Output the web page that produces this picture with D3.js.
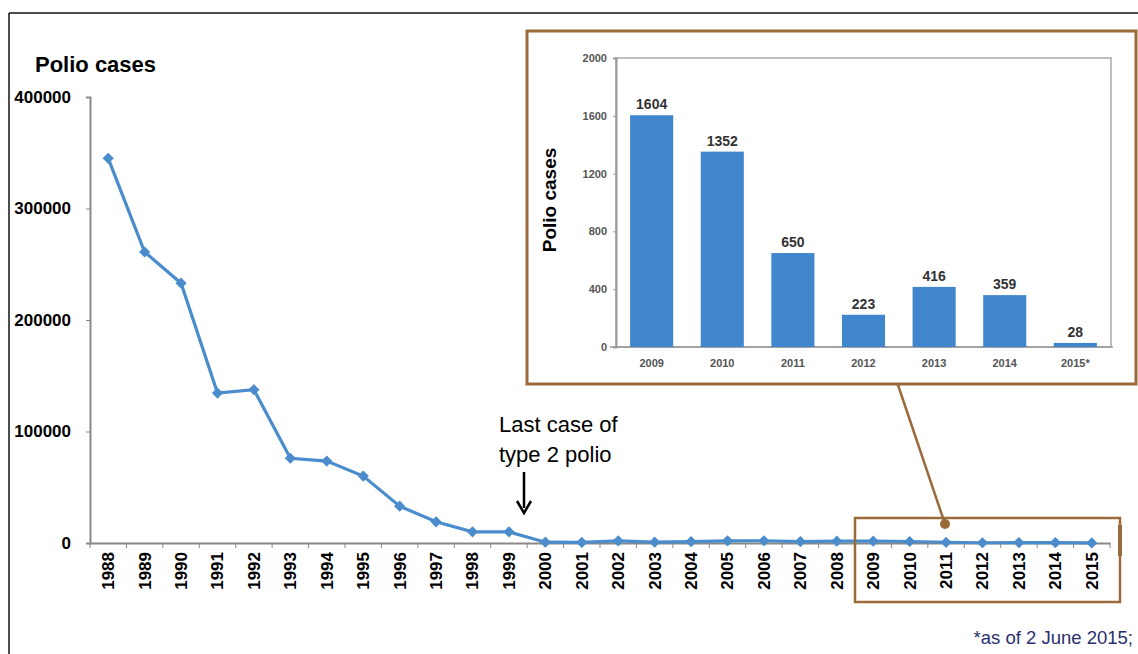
<!DOCTYPE html>
<html>
<head>
<meta charset="utf-8">
<script src="https://cdn.jsdelivr.net/npm/d3@7"></script>
<style>
  body { margin: 0; background: #fff; }
  svg { display: block; font-family: "Liberation Sans", Arial, sans-serif; }
</style>
</head>
<body>
<svg id="chart" width="1138" height="654"></svg>
<script>
// main series, 1988-2015
var years = ["1988","1989","1990","1991","1992","1993","1994","1995","1996","1997","1998","1999","2000","2001",
             "2002","2003","2004","2005","2006","2007","2008","2009","2010","2011","2012","2013","2014","2015"];
var cases = [345000, 261000, 233000, 134500, 137500, 76000, 73500, 60000, 33000, 19000, 10000, 10000, 700, 498,
             1918, 784, 1255, 1979, 1997, 1315, 1651, 1604, 1352, 650, 223, 416, 359, 28];
var yTicks = [0, 100000, 200000, 300000, 400000];

// inset bars
var insetYears = ["2009","2010","2011","2012","2013","2014","2015*"];
var insetCases = [1604, 1352, 650, 223, 416, 359, 28];
var insetTicks = [0, 400, 800, 1200, 1600, 2000];

var blue = "#4a8ccc", brown = "#9a6a3a";
var svg = d3.select("svg#chart");

// outer frame (top + left only visible)
svg.append("line").attr("x1",9).attr("x2",1138).attr("y1",13).attr("y2",13).attr("stroke","#111").attr("stroke-width",1.5);
svg.append("line").attr("x1",9).attr("x2",9).attr("y1",13).attr("y2",654).attr("stroke","#111").attr("stroke-width",1.5);

// ---------- main line chart ----------
var x = d3.scaleBand().domain(years).range([90, 1110]);
var y = d3.scaleLinear().domain([0, 400000]).range([543, 97]);

var gy = svg.append("g").attr("transform","translate(90,0)")
    .call(d3.axisLeft(y).tickValues(yTicks).tickSize(4).tickPadding(15).tickFormat(d3.format("d")));
gy.select(".domain").attr("stroke","#888").attr("stroke-width",2);
gy.selectAll(".tick line").attr("stroke","#888");
gy.selectAll("text").attr("font-size",17).attr("font-weight","bold").attr("fill","#000")
    .attr("font-family","Liberation Sans, Arial, sans-serif");

var gx = svg.append("g").attr("transform","translate(0,543)")
    .call(d3.axisBottom(x).tickSize(0).tickPadding(0));
gx.select(".domain").attr("stroke","#888").attr("stroke-width",2);
gx.selectAll(".tick text")
    .attr("transform","rotate(-90)")
    .attr("text-anchor","end")
    .attr("x",-9).attr("y",0).attr("dy","0.35em")
    .attr("font-size",17).attr("font-weight","bold").attr("fill","#000")
    .attr("font-family","Liberation Sans, Arial, sans-serif");
// tick marks on band boundaries
svg.append("g").selectAll("line").data(years.concat(["end"])).enter().append("line")
    .attr("x1",function(d,i){return x.range()[0] + i*x.step();})
    .attr("x2",function(d,i){return x.range()[0] + i*x.step();})
    .attr("y1",543).attr("y2",548).attr("stroke","#888");

var pts = years.map(function(d,i){return [x(d)+x.bandwidth()/2, y(cases[i])];});
svg.append("path").attr("d", d3.line()(pts)).attr("fill","none").attr("stroke",blue).attr("stroke-width",3.2);
svg.append("g").selectAll("path").data(pts).enter().append("path")
    .attr("d", d3.symbol(d3.symbolDiamond2, 80)())
    .attr("transform",function(d){return "translate("+d[0]+","+d[1]+")";})
    .attr("fill",blue);

svg.append("text").attr("x",35).attr("y",72).attr("font-size",22).attr("font-weight","bold").text("Polio cases");

// annotation
svg.append("text").attr("x",499).attr("y",432).attr("font-size",22).text("Last case of");
svg.append("text").attr("x",499).attr("y",462).attr("font-size",22).text("type 2 polio");
svg.append("line").attr("x1",524).attr("x2",524).attr("y1",472).attr("y2",508).attr("stroke","#000").attr("stroke-width",2.5);
svg.append("path").attr("d","M517,501 L524,513 L531,501").attr("fill","none").attr("stroke","#000").attr("stroke-width",2.5);

svg.append("text").attr("x",1133).attr("y",644).attr("text-anchor","end").attr("font-size",18.5).attr("fill","#2b2f6e")
    .text("*as of 2 June 2015;");

// ---------- zoom box + connector ----------
svg.append("rect").attr("x",855).attr("y",518).attr("width",265).attr("height",84)
    .attr("fill","none").attr("stroke",brown).attr("stroke-width",2.5);
svg.append("line").attr("x1",1120).attr("x2",1120).attr("y1",525).attr("y2",556).attr("stroke",brown).attr("stroke-width",4);
svg.append("line").attr("x1",897).attr("y1",382).attr("x2",945).attr("y2",524).attr("stroke",brown).attr("stroke-width",2.5);
svg.append("circle").attr("cx",897).attr("cy",381).attr("r",4.5).attr("fill",brown);
svg.append("circle").attr("cx",945).attr("cy",524).attr("r",5).attr("fill",brown);

// ---------- inset bar chart ----------
svg.append("rect").attr("x",527).attr("y",31).attr("width",609).attr("height",353)
    .attr("fill","#fff").attr("stroke",brown).attr("stroke-width",3);

var xi = d3.scaleBand().domain(insetYears).range([616, 1111]).paddingInner(0.39).paddingOuter(0.2);
var yi = d3.scaleLinear().domain([0, 2000]).range([347, 58]);

// plot frame
svg.append("rect").attr("x",616).attr("y",58).attr("width",495).attr("height",289)
    .attr("fill","none").attr("stroke","#aaa").attr("stroke-width",1.5);

var giy = svg.append("g").attr("transform","translate(616,0)")
    .call(d3.axisLeft(yi).tickValues(insetTicks).tickSize(3).tickPadding(6).tickFormat(d3.format("d")));
giy.select(".domain").attr("stroke","#999").attr("stroke-width",2);
giy.selectAll(".tick line").attr("stroke","#999");
giy.selectAll("text").attr("font-size",11).attr("font-weight","bold").attr("fill","#555")
    .attr("font-family","Liberation Sans, Arial, sans-serif");

svg.append("line").attr("x1",610).attr("x2",1113).attr("y1",347).attr("y2",347).attr("stroke","#999").attr("stroke-width",1.5);

svg.append("g").selectAll("rect").data(insetCases).enter().append("rect")
    .attr("x",function(d,i){return xi(insetYears[i]);})
    .attr("y",function(d){return yi(d);})
    .attr("width",xi.bandwidth())
    .attr("height",function(d){return yi(0)-yi(d);})
    .attr("fill","#3f86cc");

svg.append("g").selectAll("text").data(insetCases).enter().append("text")
    .attr("x",function(d,i){return xi(insetYears[i]) + xi.bandwidth()/2;})
    .attr("y",function(d){return yi(d) - 6;})
    .attr("text-anchor","middle").attr("font-size",14).attr("font-weight","bold").attr("fill","#333")
    .text(function(d){return d;});

svg.append("g").selectAll("text").data(insetYears).enter().append("text")
    .attr("x",function(d){return xi(d) + xi.bandwidth()/2;})
    .attr("y",367)
    .attr("text-anchor","middle").attr("font-size",11).attr("font-weight","bold").attr("fill","#555")
    .text(function(d){return d;});

svg.append("text").attr("transform","translate(556,200) rotate(-90)")
    .attr("text-anchor","middle").attr("font-size",19).attr("font-weight","bold").text("Polio cases");
</script>
</body>
</html>
